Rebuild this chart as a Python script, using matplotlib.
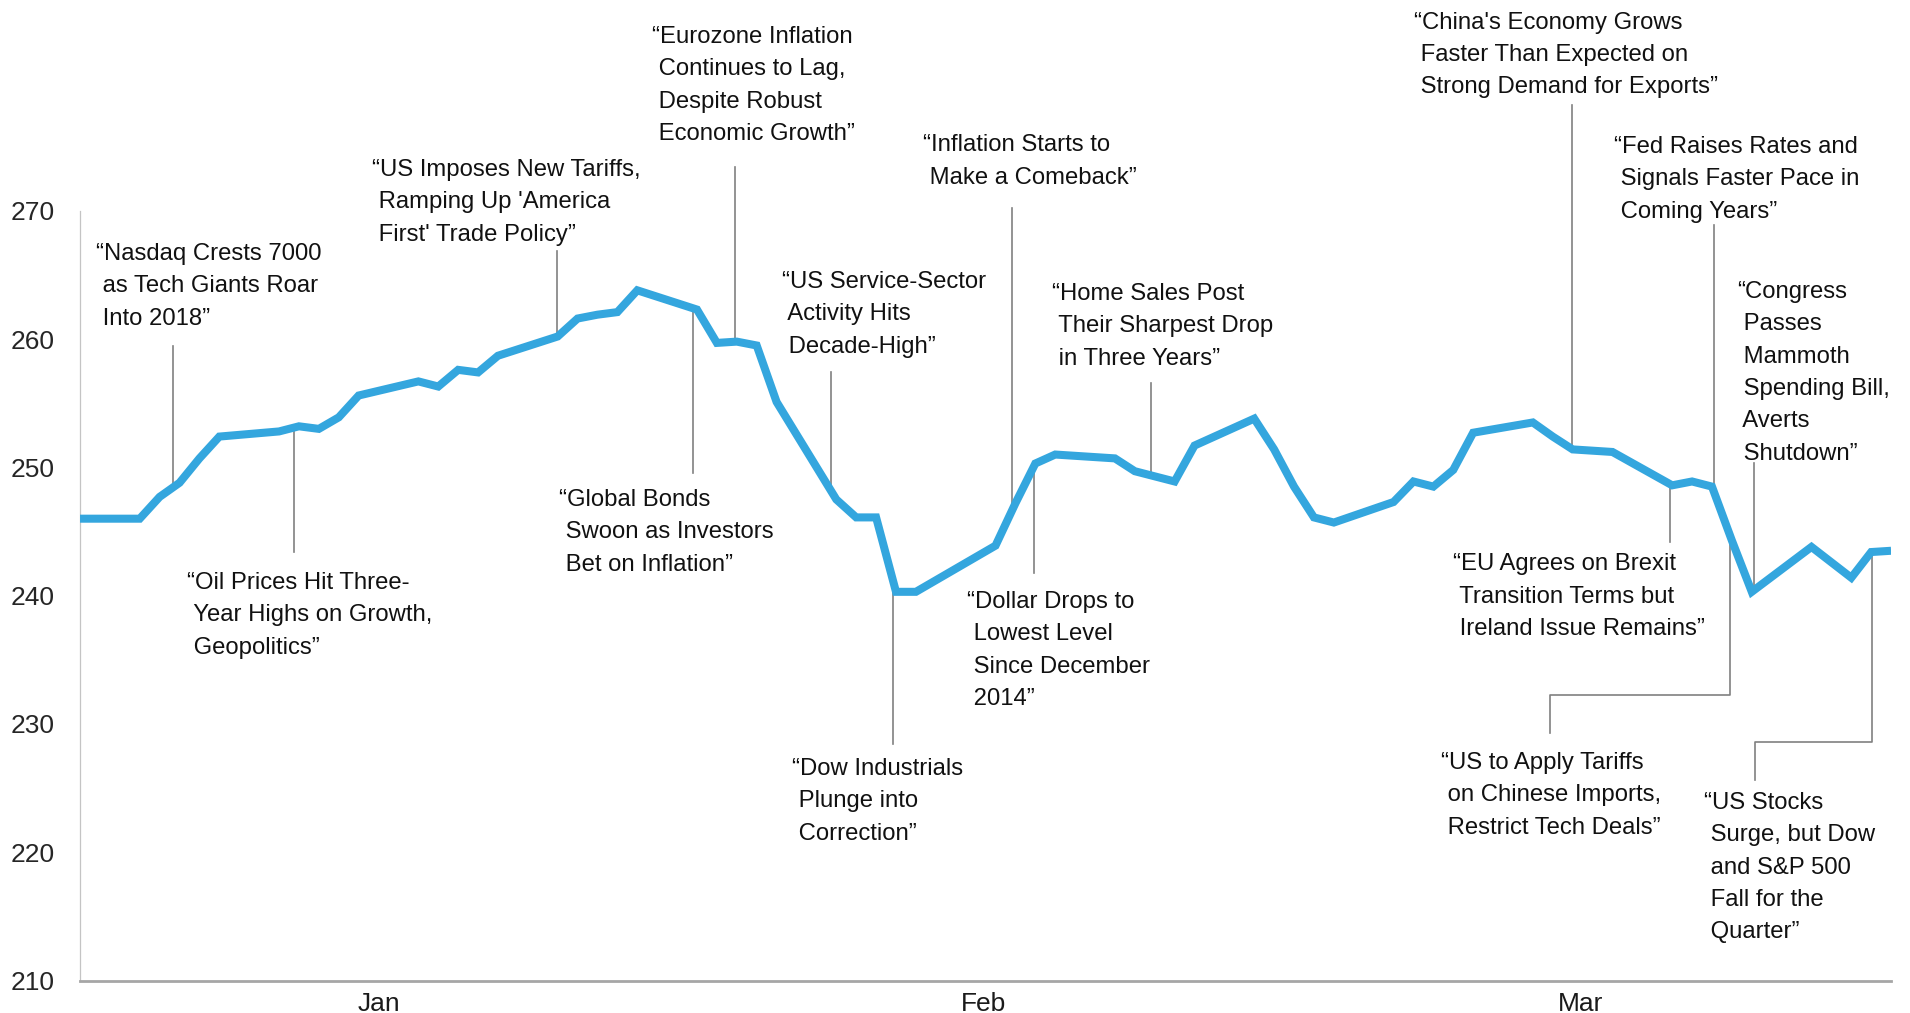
import numpy as np
import pandas as pd
import matplotlib
matplotlib.use("Agg")
import matplotlib.pyplot as plt
import matplotlib.dates as mdates

plt.rcParams["font.family"] = ["Liberation Sans", "DejaVu Sans"]

# weekday closes, last session of 2017 through the end of Q1 2018
dates = pd.bdate_range("2017-12-29", "2018-03-30")
closes = [
    246.0,                                # Dec 29
    246.0, 247.7, 248.8, 250.7, 252.4,   # Jan 1-5
    252.8, 253.2, 253.0, 253.9, 255.6,   # Jan 8-12
    256.7, 256.3, 257.6, 257.4, 258.7,   # Jan 15-19
    260.2, 261.6, 261.9, 262.1, 263.8,   # Jan 22-26
    262.3, 259.7, 259.8, 259.5, 255.1,   # Jan 29 - Feb 2
    247.5, 246.1, 246.1, 240.3, 240.3,   # Feb 5-9
    243.0, 243.9, 247.2, 250.3, 251.0,   # Feb 12-16
    250.7, 249.7, 249.3, 248.9, 251.7,   # Feb 19-23
    253.8, 251.4, 248.5, 246.1, 245.7,   # Feb 26 - Mar 2
    247.3, 248.9, 248.5, 249.8, 252.7,   # Mar 5-9
    253.5, 252.4, 251.4, 251.3, 251.2,   # Mar 12-16
    248.6, 248.9, 248.5, 244.3, 240.3,   # Mar 19-23
    243.8, 242.6, 241.4, 243.4, 243.5,   # Mar 26-30
]

y_ticks = [210, 220, 230, 240, 250, 260, 270]
month_labels = ["Jan", "Feb", "Mar"]

headlines = [
    "“Nasdaq Crests 7000\n as Tech Giants Roar\n Into 2018”",
    "“Oil Prices Hit Three-\n Year Highs on Growth,\n Geopolitics”",
    "“US Imposes New Tariffs,\n Ramping Up 'America\n First' Trade Policy”",
    "“Global Bonds\n Swoon as Investors\n Bet on Inflation”",
    "“Eurozone Inflation\n Continues to Lag,\n Despite Robust\n Economic Growth”",
    "“US Service-Sector\n Activity Hits\n Decade-High”",
    "“Dow Industrials\n Plunge into\n Correction”",
    "“Inflation Starts to\n Make a Comeback”",
    "“Dollar Drops to\n Lowest Level\n Since December\n 2014”",
    "“Home Sales Post\n Their Sharpest Drop\n in Three Years”",
    "“China's Economy Grows\n Faster Than Expected on\n Strong Demand for Exports”",
    "“EU Agrees on Brexit\n Transition Terms but\n Ireland Issue Remains”",
    "“Fed Raises Rates and\n Signals Faster Pace in\n Coming Years”",
    "“US to Apply Tariffs\n on Chinese Imports,\n Restrict Tech Deals”",
    "“Congress\n Passes\n Mammoth\n Spending Bill,\n Averts\n Shutdown”",
    "“US Stocks\n Surge, but Dow\n and S&P 500\n Fall for the\n Quarter”",
]

# layout of the callouts, in days after the first session and in index points
stem_day = [4.69, 10.75, 23.95, 30.79, 32.91, 37.72, 40.87, 46.82,
            47.95, 53.80, 74.95, 79.90, 82.11, 82.89, 84.09, 90.05]
stem_end = [259.46, 243.43, 266.87, 249.56, 273.41, 257.46, 228.44, 270.21,
            241.75, 256.55, 278.25, 244.21, 268.89, 232.22, 250.34, 228.60]
text_day = [0.80, 5.36, 14.65, 24.09, 28.73, 35.28, 35.76, 42.36,
            44.57, 48.84, 67.04, 69.00, 77.09, 68.39, 83.27, 81.61]
text_top = [267.49, 241.85, 274.04, 248.32, 284.40, 265.31, 227.35, 275.95,
            240.37, 264.37, 285.53, 243.29, 275.83, 227.82, 264.53, 224.70]
# callouts whose leader steps sideways: (elbow day, final end)
elbows = {13: (73.84, 229.30), 15: (84.15, 225.64)}

x = mdates.date2num(dates)
x0 = x[0]

fig = plt.figure(figsize=(19.1, 10.13), dpi=100)
ax = fig.add_axes([0.0419, 0.032, 0.9482, 0.9626])

ax.plot(x, closes, color="#34A6DE", lw=5.8, solid_joinstyle="miter",
        solid_capstyle="butt", zorder=3)

for i, text in enumerate(headlines):
    sx = x0 + stem_day[i]
    on_line = np.interp(sx, x, closes)
    if i in elbows:
        ex, ey = elbows[i]
        ax.plot([sx, sx, x0 + ex, x0 + ex], [on_line, stem_end[i], stem_end[i], ey],
                color="#808080", lw=1.2, zorder=2)
    else:
        ax.plot([sx, sx], [on_line, stem_end[i]], color="#808080", lw=1.2, zorder=2)
    ax.text(x0 + text_day[i], text_top[i], text, ha="left", va="top",
            fontsize=17.2, linespacing=1.61, color="#111111")

ax.set_xlim(x[0], x[-1])
ax.set_ylim(210, 286)

for side in ["top", "right"]:
    ax.spines[side].set_visible(False)
ax.spines["left"].set_bounds(210, 270)
ax.spines["left"].set_color("#c4c4c4")
ax.spines["left"].set_linewidth(0.9)
ax.spines["bottom"].set_color("#a6a6a6")
ax.spines["bottom"].set_linewidth(2.0)

ax.set_yticks(y_ticks)
ax.tick_params(axis="y", length=0, pad=18, labelsize=19, labelcolor="#262626")

month_pos = mdates.date2num(pd.to_datetime(["2018-01-13 00:00", "2018-02-12 10:00",
                                            "2018-03-14 10:00"]))
ax.set_xticks(month_pos)
ax.set_xticklabels(month_labels)
ax.tick_params(axis="x", length=0, pad=8, labelsize=19, labelcolor="#1a1a1a")

fig.savefig("out.png", dpi=100)
